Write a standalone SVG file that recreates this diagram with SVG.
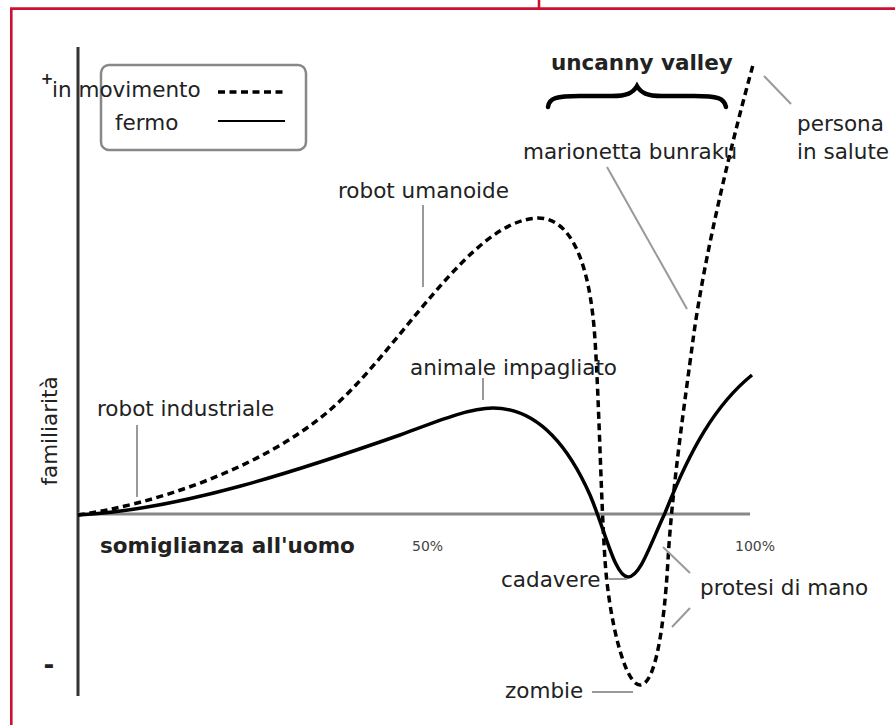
<svg xmlns="http://www.w3.org/2000/svg" width="895" height="725" viewBox="0 0 895 725">
<defs>
<style>
text{font-family:"DejaVu Sans","Liberation Sans",sans-serif;fill:#222;font-size:21.5px}
.b{font-weight:bold}
.s{font-size:14px;fill:#444}
.lead{stroke:#999;stroke-width:2;fill:none}
.curve{stroke:#000;stroke-width:3.5;fill:none}
.dash{stroke-dasharray:7,4.5}
</style>
</defs>
<rect width="895" height="725" fill="#fff"/>
<g id="frame" fill="none" stroke="#cc1130" stroke-width="2.6">
<path d="M11.3,725 V8.6 H895"/>
<path d="M539,0 V8.6"/>
</g>
<g id="axes">
<line x1="78" y1="47" x2="78" y2="696" stroke="#333" stroke-width="3"/>
<line x1="78" y1="514" x2="750" y2="514" stroke="#888" stroke-width="3"/>
<text x="47" y="84" class="b" style="font-size:15px" text-anchor="middle">+</text>
<text x="49" y="674" class="b" style="font-size:26px" text-anchor="middle">-</text>
<text x="57" y="431" text-anchor="middle" transform="rotate(-90 57 431)">familiarità</text>
<text x="100" y="553" class="b">somiglianza all'uomo</text>
<text x="412" y="551" class="s">50%</text>
<text x="735" y="551" class="s">100%</text>
</g>
<g id="legend">
<rect x="101" y="65" width="205" height="85" rx="8" fill="none" stroke="#888" stroke-width="2.5"/>
<text x="52" y="97">in movimento</text>
<text x="115" y="130">fermo</text>
<line x1="218" y1="92" x2="287" y2="92" class="curve dash"/>
<line x1="218" y1="121" x2="285" y2="121" stroke="#000" stroke-width="2"/>
</g>
<g id="uncanny-valley">
<text x="551" y="70" class="b">uncanny valley</text>
<path d="M548,107 C549,98 556,96 580,96 L612,96 C627,96 633,93 637,86 C641,93 647,96 662,96 L694,96 C718,96 724,98 726,107" fill="none" stroke="#000" stroke-width="4.5" stroke-linecap="round"/>
</g>
<g id="connectors">
<path class="curve" d="M78,515 C180,510 300,470 400,435 C440,420 470,408 493,408 C540,408 570,450 590,495 C605,530 615,577 628,577 C640,577 650,545 665,513 C690,450 715,405 752,375"/>
<path class="curve dash" d="M78,515 C150,505 260,470 330,410 C400,350 470,220 538,218 C570,218 590,260 595,340 C599,400 601,500 605,560 C609,620 625,685 640,685 C655,685 664,630 668,560 C672,490 685,400 693,340 C705,250 735,130 753,65"/>
<line class="lead" x1="137" y1="425" x2="137" y2="497"/>
<line class="lead" x1="423" y1="205" x2="423" y2="287"/>
<line class="lead" x1="483" y1="378" x2="483" y2="400"/>
<line class="lead" x1="607" y1="167" x2="687" y2="309"/>
<line class="lead" x1="764" y1="76" x2="791" y2="104"/>
<line class="lead" x1="609" y1="579" x2="627" y2="579"/>
<line class="lead" x1="592" y1="692" x2="633" y2="692"/>
<line class="lead" x1="663" y1="547" x2="690" y2="573"/>
<line class="lead" x1="672" y1="627" x2="690" y2="608"/>
</g>
<g id="label-robot-industriale"><text x="97" y="416">robot industriale</text></g>
<g id="label-robot-umanoide"><text x="338" y="198">robot umanoide</text></g>
<g id="label-animale-impagliato"><text x="410" y="375">animale impagliato</text></g>
<g id="label-marionetta-bunraku"><text x="523" y="159">marionetta bunraku</text></g>
<g id="label-persona"><text x="797" y="131">persona</text><text x="797" y="159">in salute</text></g>
<g id="label-cadavere"><text x="501" y="587">cadavere</text></g>
<g id="label-protesi"><text x="700" y="595">protesi di mano</text></g>
<g id="label-zombie"><text x="505" y="698">zombie</text></g>
</svg>
